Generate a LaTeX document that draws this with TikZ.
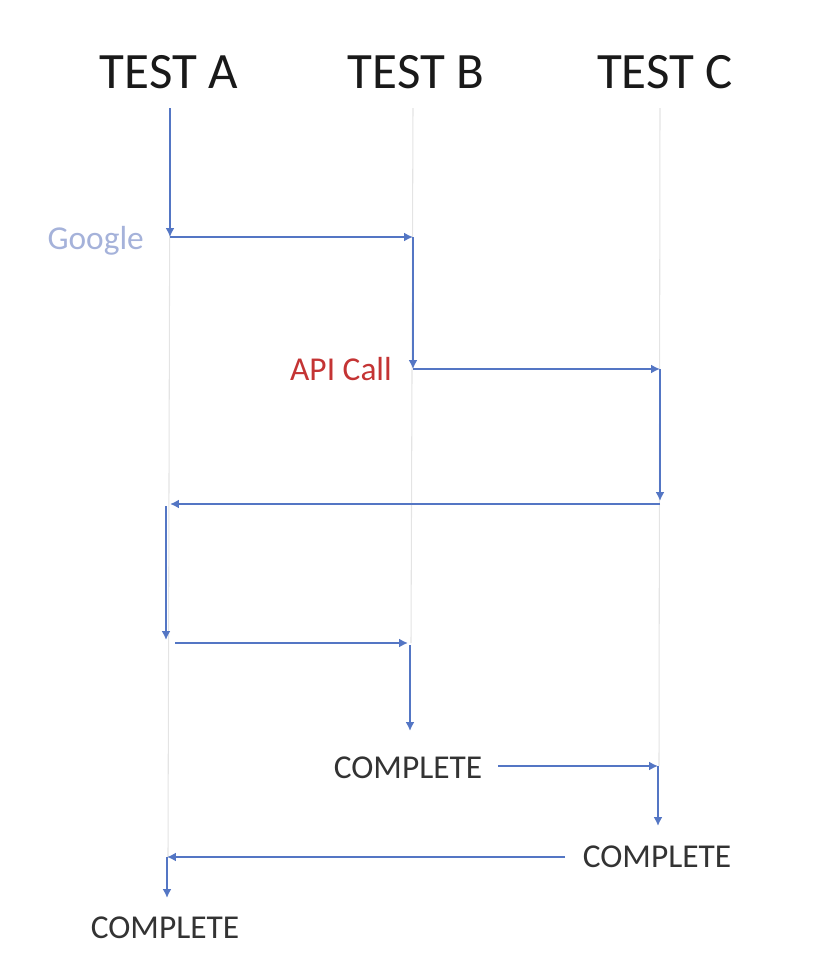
\documentclass[tikz,border=0pt]{standalone}
\usepackage{fontspec}
\setmainfont{Carlito}
\usetikzlibrary{arrows.meta,positioning}

\definecolor{flowblue}{RGB}{84,118,196}
\definecolor{lifegray}{RGB}{228,228,228}
\definecolor{googleblue}{RGB}{165,178,218}
\definecolor{apired}{RGB}{196,52,52}

\tikzset{
    flow/.style={draw=flowblue, line width=1.6pt, -{Latex[length=5pt,width=5pt]}},
    lifeline/.style={draw=lifegray, line width=0.6pt},
    header/.style={font=\fontsize{29}{34}\selectfont, text=black!90},
    done/.style={font=\fontsize{19}{22}\selectfont, text=black!80},
    tag/.style={font=\fontsize{19}{22}\selectfont}
}

\begin{document}
\begin{tikzpicture}[x=0.02cm, y=-0.02cm]
    \useasboundingbox (0,0) rectangle (814,974);

    % Headers and lifelines
    \foreach \x/\n in {169/A, 416/B, 665/C} {
        \node[header] (test\n) at (\x,72) {TEST \n};
    }
    \draw [lifeline] (170,108) -- (168,857);
    \draw [lifeline] (413,108) -- (411,643);
    \draw [lifeline] (660,108) -- (659,766);

    % Labels
    \node[tag, text=googleblue, anchor=east] (google) at (150,241) {Google};
    \node[tag, text=apired, anchor=east] (api) at (398,369) {API Call};
    \node[done] (doneB) at (408,768) {COMPLETE};
    \node[done] (doneC) at (657,857) {COMPLETE};
    \node[done] (doneA) at (165,928) {COMPLETE};

    % Flow points
    \coordinate (a0) at (170,108);
    \coordinate (a1) at (170,237);
    \coordinate (b1) at (413,237);
    \coordinate (b2) at (413,369);
    \coordinate (c1) at (660,369);
    \coordinate (c2) at (660,501);
    \coordinate (c3) at (660,504);
    \coordinate (a2) at (170,504);
    \coordinate (a3) at (166,506);
    \coordinate (a4) at (166,640);
    \coordinate (a5) at (175,643);
    \coordinate (b3) at (408,643);
    \coordinate (b4) at (410,645);
    \coordinate (b5) at (410,731);
    \coordinate (c4) at (498,766);
    \coordinate (c5) at (658,766);
    \coordinate (c6) at (658,826);
    \coordinate (a6) at (565,857);
    \coordinate (a7) at (167,857);
    \coordinate (a8) at (167,898);

    % Flow arrows
    \draw [flow] (a0) -- (a1);
    \draw [flow] (a1) -- (b1);
    \draw [flow] (b1) -- (b2);
    \draw [flow] (b2) -- (c1);
    \draw [flow] (c1) -- (c2);
    \draw [flow] (c3) -- (a2);
    \draw [flow] (a3) -- (a4);
    \draw [flow] (a5) -- (b3);
    \draw [flow] (b4) -- (b5);
    \draw [flow] (c4) -- (c5);
    \draw [flow] (c5) -- (c6);
    \draw [flow] (a6) -- (a7);
    \draw [flow] (a7) -- (a8);
\end{tikzpicture}
\end{document}
